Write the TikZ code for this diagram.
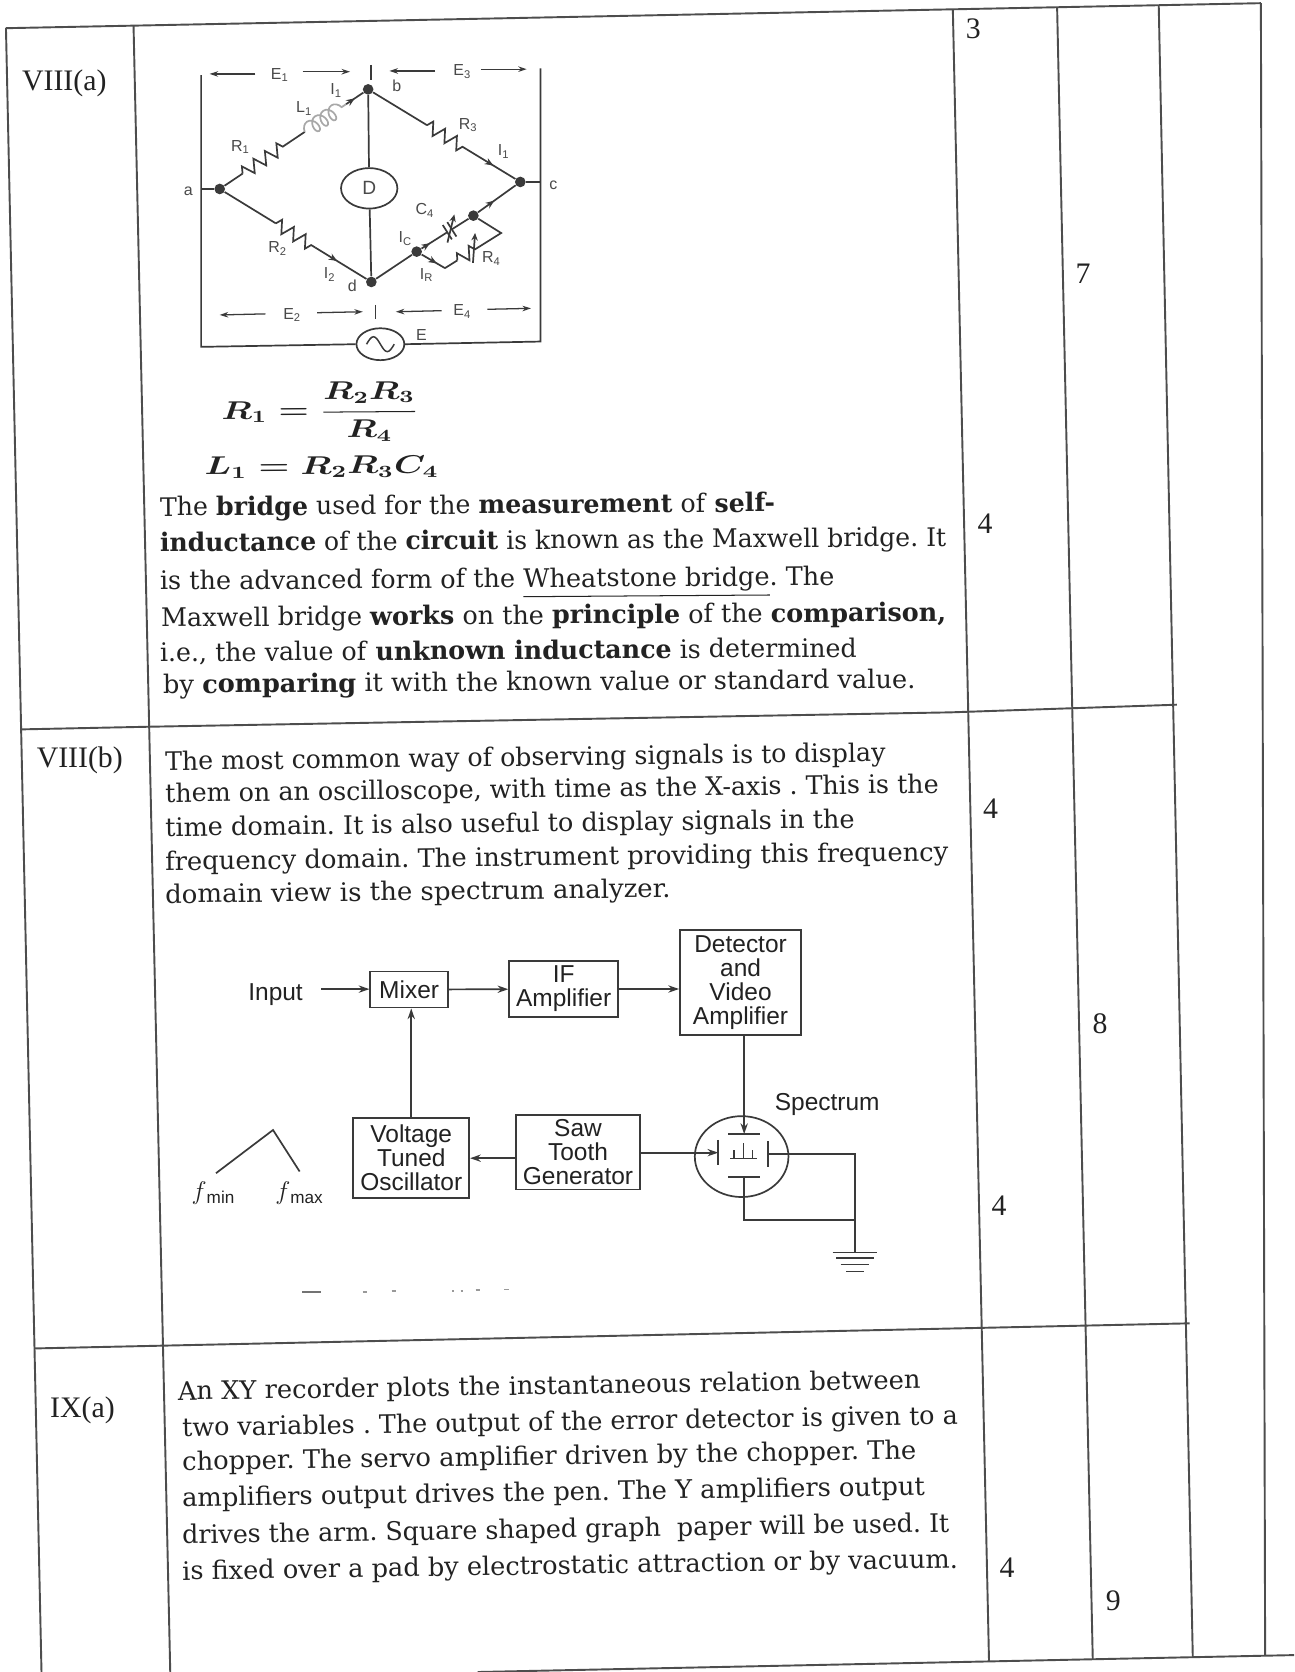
\documentclass[tikz,border=0pt]{standalone}
\usepackage{fontspec}
\usepackage{amsmath}
\usepackage{graphicx}
\usepackage{tikz}
\usetikzlibrary{positioning}
\usetikzlibrary{calc}
\usetikzlibrary{arrows.meta}
\usetikzlibrary{shapes.geometric}
\usetikzlibrary{decorations.pathmorphing}
\usetikzlibrary{decorations.markings}

\setmainfont{Liberation Serif}
\newfontfamily\parafont{DejaVu Serif}
\newfontfamily\diagfont{Liberation Sans}
\frenchspacing

\definecolor{ink}{HTML}{222222}
\definecolor{rulec}{HTML}{4D4D4D}
\definecolor{wirec}{HTML}{3A3A3A}
\definecolor{lblc}{HTML}{4A4A4A}
\definecolor{coilc}{HTML}{A8A8A8}

% stretch one line of text to a width given in picture units
\newlength\fitwd
\newcommand\fitto[2]{\settowidth\fitwd{#2}\pgfmathsetmacro\fitsx{#1*0.5/\fitwd}\scalebox{\fitsx}[1]{#2}}

\tikzset{
  tabline/.style={draw=rulec, line width=0.9pt},
  rowlab/.style={anchor=base, inner sep=0pt, font=\fontsize{14}{16}\selectfont, text=ink},
  marknum/.style={inner sep=0pt, font=\fontsize{14}{16}\selectfont, text=ink},
  partxt/.style={anchor=base west, inner sep=0pt, font=\parafont\fontsize{12}{14}\selectfont, text=ink},
  wire/.style={color=wirec, line width=0.8pt},
  dot/.style={circle, fill=wirec, minimum size=5pt, inner sep=0pt},
  resz/.style={decorate, decoration={zigzag, amplitude=3pt, segment length=6.5pt}},
  coilz/.style={color=coilc, line width=0.8pt, decorate, decoration={coil, amplitude=3.4pt, segment length=4.6pt, aspect=0.7}},
  cur/.style={postaction={decorate, decoration={markings, mark=at position #1 with {\arrow{Stealth[length=4pt,width=3.2pt]}}}}},
  volt/.style={color=wirec, line width=0.6pt, -{Stealth[length=4pt,width=2.6pt]}},
  clbl/.style={inner sep=0pt, font=\diagfont\fontsize{7.5}{8}\selectfont, text=lblc},
  blk/.style={draw=wirec, line width=0.8pt, align=center, inner sep=0pt, font=\diagfont\fontsize{11.5}{11.3}\selectfont, text=ink},
  dlbl/.style={inner sep=0pt, font=\diagfont\fontsize{11.5}{11.3}\selectfont, text=ink},
  flow/.style={color=wirec, line width=0.8pt, -{Stealth[length=5pt,width=3.4pt]}},
  dline/.style={color=wirec, line width=0.8pt},
}

\begin{document}
\begin{tikzpicture}[x=0.5pt, y=-0.5pt]

  \fill[white] (0,0) rectangle (1216.2,1571.4);
  \useasboundingbox (0,0) rectangle (1216.2,1571.4);

  % table
  \draw[tabline] (5.6,26.5) -- (1185,3);
  \draw[tabline] (5.6,26.3) -- (39,1571.4);
  \draw[tabline] (125.5,24) -- (160,1571.4);
  \draw[tabline] (895.5,8.8) -- (929.5,1561.3);
  \draw[tabline] (993.5,6.9) -- (1027,1559.3);
  \draw[tabline] (1089,4.9) -- (1121,1557.4);
  \draw[tabline] (1185,3) -- (1189,1556);
  \draw[tabline] (19.9,685.5) -- (140.3,683) -- (893,669.5) -- (1106,662.3);
  \draw[tabline] (32.4,1267.3) -- (1118,1243.7);
  \draw[tabline] (449,1571.4) -- (1216.2,1555.5);

  \node[rowlab] (r8a) at (60.4,84.6) {VIII(a)};
  \node[rowlab] (r8b) at (75,721) {VIII(b)};
  \node[rowlab] (r9a) at (77.5,1332) {IX(a)};

  \node[marknum] (n3) at (914.8,26.6) {3};
  \node[marknum] (n7) at (1018,257) {7};
  \node[marknum] (n4a) at (925.8,492) {4};
  \node[marknum] (n4b) at (931,760) {4};
  \node[marknum] (n8) at (1033.8,962) {8};
  \node[marknum] (n4c) at (939,1133) {4};
  \node[marknum] (n4d) at (946.5,1473) {4};
  \node[marknum] (n9) at (1046.3,1504) {9};

  % Maxwell bridge
  \node[dot] (a) at (206.5,177.6) {};
  \node[dot] (b) at (346,84) {};
  \node[dot] (c) at (489,171) {};
  \node[dot] (d) at (349,265) {};
  \node[dot] (e) at (391.6,236.5) {};
  \node[dot] (f) at (444.9,202.7) {};
  \coordinate (g) at (418.2,252);
  \coordinate (m) at (471,219);
  \coordinate (lt) at (189,70.5);
  \coordinate (lb) at (189,326);
  \coordinate (rt) at (508,64.2);
  \coordinate (rb) at (508,321);

  \node[ellipse, draw=wirec, line width=0.8pt, minimum width=26.5pt, minimum height=19pt, inner sep=0pt,
        font=\diagfont\fontsize{9}{9}\selectfont, text=lblc] (dtr) at (347,177) {D};
  \node[ellipse, draw=wirec, line width=0.8pt, minimum width=22.5pt, minimum height=15pt, inner sep=0pt] (src) at (357.5,323.5) {};
  \draw[wire, line width=0.7pt] ($(src)+(-13,0)$) sin ($(src)+(-6.5,-7)$) cos (src) sin ($(src)+(6.5,7)$) cos ($(src)+(13,0)$);

  \draw[wire] (lt) -- (lb) -- (src.west);
  \draw[wire] (src.east) -- (rb) -- (rt);
  \draw[wire] (a) -- (a -| lb);
  \draw[wire] (c) -- (c -| rb);

  \draw[wire] (a) -- ($(a)!0.154!(b)$);
  \draw[wire, resz] ($(a)!0.154!(b)$) -- ($(a)!0.447!(b)$);
  \draw[wire] ($(a)!0.447!(b)$) -- ($(a)!0.573!(b)$);
  \draw[coilz] ($(a)!0.573!(b)$) -- ($(a)!0.852!(b)$);
  \draw[wire, cur=0.5] ($(a)!0.852!(b)$) -- (b);

  \draw[wire] (a) -- ($(a)!0.37!(d)$);
  \draw[wire, resz] ($(a)!0.37!(d)$) -- ($(a)!0.63!(d)$);
  \draw[wire, cur=0.43] ($(a)!0.63!(d)$) -- (d);

  \draw[wire] (b) -- ($(b)!0.387!(c)$);
  \draw[wire, resz] ($(b)!0.387!(c)$) -- ($(b)!0.646!(c)$);
  \draw[wire, cur=0.55] ($(b)!0.646!(c)$) -- (c);

  \draw[wire] (b) -- (dtr);
  \draw[wire] (dtr) -- (d);

  \draw[wire] (d) -- (e);
  \coordinate (cp1) at ($(e)!0.54!(f)$);
  \coordinate (cp2) at ($(e)!0.62!(f)$);
  \draw[wire, cur=0.33] (e) -- (cp1);
  \draw[wire] (cp2) -- (f);
  \draw[wire] ($(cp1)!4pt!90:(f)$) -- ($(cp1)!4pt!-90:(f)$);
  \draw[wire] ($(cp2)!4pt!90:(f)$) -- ($(cp2)!4pt!-90:(f)$);
  \draw[wire, -{Stealth[length=3.5pt,width=3pt]}] (420.5,228) -- (427,201.5);
  \draw[wire, cur=0.43] (f) -- (c);

  \draw[wire, cur=0.65] (e) -- (g);
  \draw[wire] (g) -- ($(g)!0.22!(m)$);
  \draw[wire, resz] ($(g)!0.22!(m)$) -- ($(g)!0.62!(m)$);
  \draw[wire] ($(g)!0.62!(m)$) -- (m) -- (f);
  \draw[wire, -{Stealth[length=3.5pt,width=3pt]}] (444.5,247) -- (446.5,219);

  \draw[volt] (240,69.5) -- (197,69.5);
  \draw[volt] (284.5,67.4) -- (329,67.4);
  \draw[wire, line width=0.6pt] (348.8,61) -- (348.8,75);
  \draw[volt] (409,66.7) -- (366,66.7);
  \draw[volt] (452,65) -- (495,65);
  \draw[volt] (249.4,295) -- (206.5,296);
  \draw[volt] (298,293.9) -- (341,293);
  \draw[wire, line width=0.6pt] (352.7,286.6) -- (352.7,300);
  \draw[volt] (415,292) -- (372,293);
  \draw[volt] (458,290.7) -- (499,289.8);

  \node[clbl] (lE1) at (263,70.5) {E\textsubscript{1}};
  \node[clbl] (lE3) at (434.5,67.4) {E\textsubscript{3}};
  \node[clbl] (lE2) at (274.7,296) {E\textsubscript{2}};
  \node[clbl] (lE4) at (434.5,293) {E\textsubscript{4}};
  \node[clbl] (la) at (177,180) {a};
  \node[clbl] (lb) at (373,81) {b};
  \node[clbl] (lc) at (520,174.5) {c};
  \node[clbl] (ld) at (331,269) {d};
  \node[clbl] (lR1) at (226,138) {R\textsubscript{1}};
  \node[clbl] (lL1) at (286,102) {L\textsubscript{1}};
  \node[clbl] (lI1) at (316,85) {I\textsubscript{1}};
  \node[clbl] (lR3) at (440,117.5) {R\textsubscript{3}};
  \node[clbl] (lI1b) at (473.5,142.5) {I\textsubscript{1}};
  \node[clbl] (lR2) at (261,233.4) {R\textsubscript{2}};
  \node[clbl] (lI2) at (310,258) {I\textsubscript{2}};
  \node[clbl] (lC4) at (399.5,198) {C\textsubscript{4}};
  \node[clbl] (lIc) at (381,224) {I\textsubscript{C}};
  \node[clbl] (lIR) at (401,258.5) {I\textsubscript{R}};
  \node[clbl] (lR4) at (462,243) {R\textsubscript{4}};
  \node[clbl] (lE) at (396,315) {E};

  % balance equations
  \node[partxt, rotate=0.4] (eq1) at (208,394) {\fitto{185}{\fontsize{12}{14}\selectfont\boldmath$\displaystyle R_1 = \frac{R_2R_3}{R_4}$}};
  \node[partxt, rotate=0.4] (eq2) at (192,446.4) {\fitto{220}{\fontsize{12}{14}\selectfont\boldmath$L_1 = R_2R_3C_4$}};

  \node[partxt, rotate=0.4] (pa1) at (150,485) {\fitto{578}{The \textbf{bridge} used for the \textbf{measurement} of \textbf{self-}}};
  \node[partxt, rotate=0.4] (pa2) at (150,518.5) {\fitto{739}{\textbf{inductance} of the \textbf{circuit} is known as the Maxwell bridge. It}};
  \node[partxt, rotate=0.4] (pa3) at (150,554.5) {\fitto{634}{is the advanced form of the \underline{Wheatstone bridge}. The}};
  \node[partxt, rotate=0.4] (pa4) at (151,589) {\fitto{738}{Maxwell bridge \textbf{works} on the \textbf{principle} of the \textbf{comparison,}}};
  \node[partxt, rotate=0.4] (pa5) at (150,622) {\fitto{655}{i.e., the value of \textbf{unknown inductance} is determined}};
  \node[partxt, rotate=0.4] (pa6) at (153,651.6) {\fitto{707}{by \textbf{comparing} it with the known value or standard value.}};

  \node[partxt, rotate=0.7] (pb1) at (155,724) {\fitto{677}{The most common way of observing signals is to display}};
  \node[partxt, rotate=0.7] (pb2) at (155,754) {\fitto{727}{them on an oscilloscope, with time as the X-axis . This is the}};
  \node[partxt, rotate=0.7] (pb3) at (155,786) {\fitto{648}{time domain. It is also useful to display signals in the}};
  \node[partxt, rotate=0.7] (pb4) at (155,818) {\fitto{736}{frequency domain. The instrument providing this frequency}};
  \node[partxt, rotate=0.7] (pb5) at (155,849) {\fitto{475}{domain view is the spectrum analyzer.}};

  % spectrum analyzer
  \node[blk, minimum width=36.5pt, minimum height=17pt] (mix) at (384.5,930) {Mixer};
  \node[blk, minimum width=51.25pt, minimum height=26.5pt] (ifa) at (529.75,929.5) {IF\\Amplifier};
  \node[blk, minimum width=57pt, minimum height=49.5pt] (detv) at (696,923.5) {Detector\\and\\Video\\Amplifier};
  \node[blk, minimum width=54.5pt, minimum height=37.5pt] (vto) at (386.5,1088.5) {Voltage\\Tuned\\Oscillator};
  \node[blk, minimum width=58.25pt, minimum height=35pt] (saw) at (543.25,1083) {Saw\\Tooth\\Generator};
  \node[ellipse, draw=wirec, line width=0.8pt, minimum width=44pt, minimum height=38pt, inner sep=0pt] (crt) at (697,1087) {};
  \node[dlbl] (inp) at (259,935) {Input};
  \node[dlbl, anchor=base west] (spec) at (727.8,1043.9) {Spectrum};

  \coordinate (ins) at (302,929.6);
  \draw[flow] (ins) -- (ins -| mix.west);
  \draw[flow] (mix) -- (ifa);
  \draw[flow] (ifa.east) -- (ifa.east -| detv.west);
  \draw[flow] (vto.north) -- (vto.north |- mix.south);
  \draw[flow] (saw.west |- vto.east) -- (vto.east);

  \coordinate (tp) at ($(crt)+(2.4,-21.2)$);
  \coordinate (lp) at ($(crt)+(-22,-3.7)$);
  \coordinate (rp) at ($(crt)+(25,-2.3)$);
  \coordinate (bp) at ($(crt)+(2.4,19)$);
  \draw[flow] (detv.south -| tp) -- (tp);
  \draw[flow] (saw.east |- lp) -- (lp);
  \draw[dline] ($(tp)+(-15,0)$) -- ($(tp)+(15,0)$);
  \draw[dline] ($(bp)+(-15,0)$) -- ($(bp)+(15,0)$);
  \draw[dline] ($(lp)+(0,-12)$) -- ($(lp)+(0,12)$);
  \draw[dline] ($(rp)+(0,-12)$) -- ($(rp)+(0,12)$);
  \draw[dline, line width=0.6pt] ($(crt)+(-10.7,1.6)$) -- ($(crt)+(14,1.6)$);
  \draw[dline, line width=0.6pt] ($(crt)+(-7.2,1.6)$) -- ($(crt)+(-7.2,-6.2)$);
  \draw[dline, line width=0.6pt] ($(crt)+(1.6,1.6)$) -- ($(crt)+(1.6,-12.4)$);
  \draw[dline, line width=0.6pt] ($(crt)+(10.4,1.6)$) -- ($(crt)+(10.4,-6.2)$);

  \coordinate (gnd) at (803.6,1177);
  \coordinate (gj) at (803.6,1146.6);
  \draw[dline] (rp) -- (rp -| gnd) -- (gnd);
  \draw[dline] (bp) |- (gj);
  \draw[dline] ($(gnd)+(-21,0)$) -- ($(gnd)+(20.4,0)$);
  \draw[dline] ($(gnd)+(-17.5,5)$) -- ($(gnd)+(17.5,5)$);
  \draw[dline] ($(gnd)+(-13.5,11.5)$) -- ($(gnd)+(13.5,11.5)$);
  \draw[dline] ($(gnd)+(-8.5,18)$) -- ($(gnd)+(8.5,18)$);

  \coordinate (fa) at (203,1102.6);
  \coordinate (fb) at (256.6,1062);
  \coordinate (fc) at (281.6,1101);
  \draw[dline] (fa) -- (fb) -- (fc);
  \node[dlbl] (fmn) at (200.7,1121.5) {$f$\textsubscript{min}};
  \node[dlbl] (fmx) at (281.6,1121.5) {$f$\textsubscript{max}};

  \draw[dline, color=black!55] (284,1214) -- (302,1214);
  \draw[dline, color=black!40] (341,1214) -- (345,1214);
  \draw[dline, color=black!40] (368,1213.5) -- (372,1213.5);
  \draw[dline, color=black!40] (425,1213) -- (427,1213);
  \draw[dline, color=black!40] (433,1213) -- (435,1213);
  \draw[dline, color=black!40] (447,1212.5) -- (451,1212.5);
  \draw[dline, color=black!40] (474,1212) -- (478,1212);

  % IX(a)
  \node[partxt, rotate=0.9] (pc1) at (167,1316) {\fitto{698}{An XY recorder plots the instantaneous relation between}};
  \node[partxt, rotate=0.9] (pc2) at (171,1350) {\fitto{729}{two variables . The output of the error detector is given to a}};
  \node[partxt, rotate=0.9] (pc3) at (171,1382) {\fitto{690}{chopper. The servo amplifier driven by the chopper. The}};
  \node[partxt, rotate=0.9] (pc4) at (171,1416) {\fitto{698}{amplifiers output drives the pen. The Y amplifiers output}};
  \node[partxt, rotate=0.9] (pc5) at (171,1451) {\fitto{721}{drives the arm. Square shaped graph~ paper will be used. It}};
  \node[partxt, rotate=0.9] (pc6) at (171,1485) {\fitto{729}{is fixed over a pad by electrostatic attraction or by vacuum.}};

\end{tikzpicture}
\end{document}
